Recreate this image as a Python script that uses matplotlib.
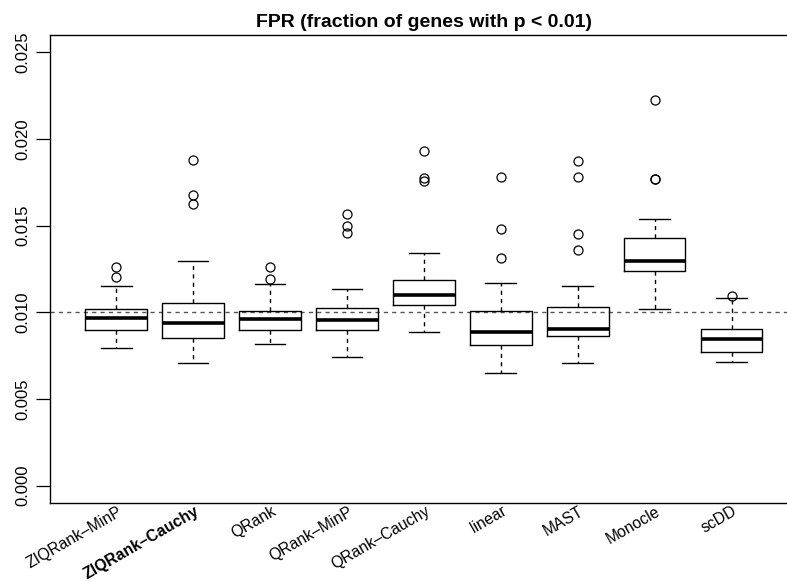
import matplotlib
matplotlib.use("Agg")
import matplotlib.pyplot as plt

plt.rcParams['font.family'] = ['Liberation Sans', 'DejaVu Sans']

methods = ["ZIQRank–MinP", "ZIQRank–Cauchy", "QRank", "QRank–MinP", "QRank–Cauchy",
           "linear", "MAST", "Monocle", "scDD"]

# box stats
whislo = [0.00792, 0.00705, 0.00819, 0.00745, 0.00888, 0.00649, 0.00705, 0.01020, 0.00713]
q1 = [0.00900, 0.00850, 0.00900, 0.00898, 0.01045, 0.00813, 0.00865, 0.01236, 0.00772]
med = [0.00965, 0.00940, 0.00960, 0.00956, 0.01101, 0.00884, 0.00906, 0.01294, 0.00844]
q3 = [0.01020, 0.01054, 0.01010, 0.01025, 0.01188, 0.01006, 0.01029, 0.01429, 0.00902]
whishi = [0.01151, 0.01298, 0.01162, 0.01132, 0.01342, 0.01168, 0.01153, 0.01537, 0.01083]
fliers = [
    [0.01203, 0.01263],
    [0.01879, 0.01678, 0.01626],
    [0.01193, 0.01263],
    [0.01570, 0.01498, 0.01460],
    [0.01933, 0.01775, 0.01755],
    [0.01782, 0.01481, 0.01315],
    [0.01871, 0.01779, 0.01454, 0.01359],
    [0.02225, 0.01771, 0.01768],
    [0.01097],
]

stats = []
for i in range(len(methods)):
    stats.append(dict(label=methods[i], whislo=whislo[i], q1=q1[i], med=med[i],
                      q3=q3[i], whishi=whishi[i], fliers=fliers[i]))

fig = plt.figure(figsize=(7.87, 5.82), dpi=100)
ax = fig.add_axes([50/787, (582-503)/582, (797.8-50)/787, (503-35)/582])

ax.axhline(0.01, color="#555555", lw=1.0, ls=(0, (3, 3)), zorder=1)

ax.bxp(stats, positions=range(1, 10), widths=0.8,
       boxprops=dict(color="black", lw=1.0),
       medianprops=dict(color="black", lw=2.6, solid_capstyle="butt"),
       whiskerprops=dict(color="black", lw=1.0, ls=(0, (3, 3))),
       capprops=dict(color="black", lw=1.0),
       flierprops=dict(marker="o", markerfacecolor="none", markeredgecolor="black",
                       markersize=6.5, markeredgewidth=0.9),
       capwidths=0.4, zorder=2)

ax.set_xlim(0.14, 9.86)
ax.set_ylim(-0.001, 0.026)
ax.set_yticks([0.0, 0.005, 0.010, 0.015, 0.020, 0.025])
ax.set_yticklabels(["0.000", "0.005", "0.010", "0.015", "0.020", "0.025"],
                   rotation=90, va="center", fontsize=12)
ax.tick_params(axis="y", length=10, width=0.9, pad=4)
ax.set_xticks([])

# rotated labels, top-right corner just under the axis at each box
for i, name in enumerate(methods):
    ax.text(i + 1 + 0.01, -0.00104, name, rotation=30, ha="right", va="top",
            rotation_mode="anchor", fontsize=11.3,
            fontweight="bold" if name == "ZIQRank–Cauchy" else "normal")

ax.set_title("FPR (fraction of genes with p < 0.01)", fontweight="bold", fontsize=14, pad=6)

for s in ax.spines.values():
    s.set_linewidth(1.0)

fig.savefig("out.png", dpi=100)
